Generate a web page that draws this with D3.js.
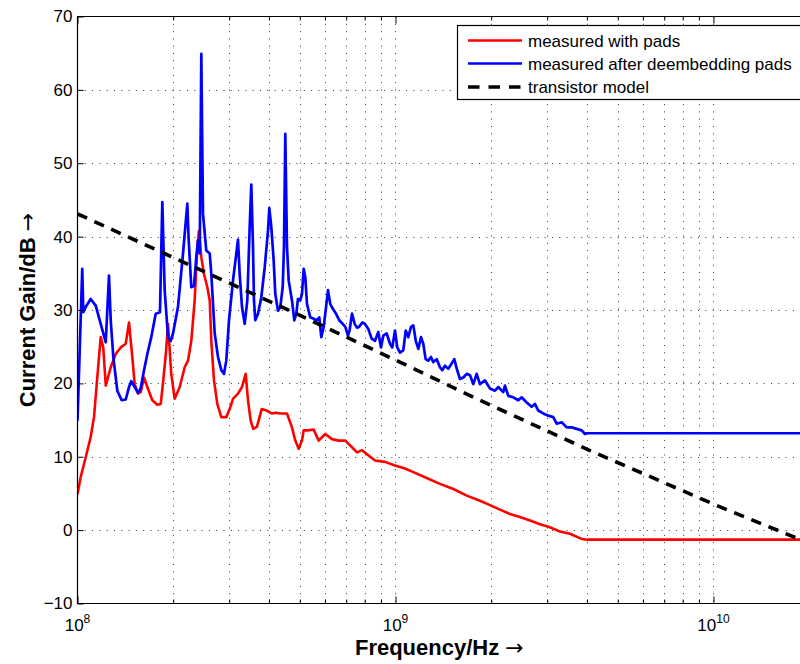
<!DOCTYPE html>
<html>
<head>
<meta charset="utf-8">
<script src="https://cdn.jsdelivr.net/npm/d3@7"></script>
<style>
  body { margin: 0; background: #fff; }
  svg { display: block; }
  text { font-family: "Liberation Sans", Arial, Helvetica, sans-serif; fill: #000; }
  .arrow { font-family: "DejaVu Sans", sans-serif; font-weight: normal; }
</style>
</head>
<body>
<svg id="chart" width="800" height="664"></svg>
<script>
// Current gain |h21| versus frequency. Frequencies in MHz, gains in dB.
const blueFreq = [100,103.5,104.3,106.1,110.0,114.1,118.3,122.7,125.6,127.2,
  129.6,133.4,137.7,141.8,145.2,147.6,151.3,155.0,158.0,161.9,
  165.8,170.6,176.2,181.7,184.8,188.0,192.6,196.4,199.7,207.0,
  214.7,221.5,223.7,228.0,232.5,236.4,239.3,242.3,245.1,248.1,
  254.1,260.5,263.5,270.1,276.6,283.3,288.9,293.7,299.5,308.3,
  315.8,319.7,323.6,329.1,335.6,342.0,347.9,352.0,356.4,358.9,
  362.3,369.5,378.4,387.9,397.2,401.0,406.9,414.0,418.8,427.1,
  434.2,441.9,446.0,450.3,455.8,461.5,472.6,480.6,487.6,493.6,
  501.9,508.1,514.4,520.4,526.9,539.6,553.1,566.4,575.9,584.3,
  594.6,601.5,613.4,623.7,634.6,650.0,665.7,682.3,695.3,709.0,
  717.8,729.8,744.2,756.7,767.8,786.3,801.9,821.2,841.7,862.1,
  882.9,900.3,915.5,938.3,961.0,977.1,996.4,1013,1033,1058,
  1077,1097,1119,1138,1158,1180,1203,1223,1244,1268,
  1293,1315,1348,1380,1403,1431,1466,1502,1531,1558,
  1595,1634,1675,1715,1757,1800,1843,1912,1982,2055,
  2105,2182,2209,2263,2346,2433,2493,2585,2681,2745,
  2812,2916,3023,3134,3213,3331,3454,3581,3713,3850,
  3943,4000,20000];
const blueGain = [14.9,35.6,29.7,30.4,31.5,30.6,28.1,25.6,34.7,28.6,
  23.6,19.0,17.7,17.8,19.5,20.3,19.5,18.7,19.3,21.8,
  24.0,26.3,29.5,29.7,44.7,32.7,26.3,25.8,26.8,30.4,
  37.7,44.5,39.5,33.1,33.3,37.2,39.5,37.7,64.9,43.1,
  38.1,37.7,34.9,26.8,23.6,21.8,21.3,23.1,28.6,34.0,
  37.7,39.6,34.9,30.4,28.1,31.3,41.3,47.1,38.6,31.3,
  28.6,29.5,31.7,35.8,40.8,43.9,41.3,36.7,32.2,29.9,
  30.4,33.1,38.6,54.0,38.6,34.0,31.3,28.6,29.5,31.5,
  31.3,32.2,35.6,34.5,30.8,29.0,28.8,28.6,29.0,26.3,
  27.7,29.5,32.7,30.8,30.2,29.5,28.6,28.1,27.7,26.5,
  27.3,29.5,28.1,27.6,27.7,28.3,28.1,27.4,26.1,25.8,
  27.0,24.9,26.5,26.8,25.4,24.9,27.2,24.9,24.2,24.5,
  27.2,26.3,27.7,27.9,25.8,24.7,26.3,25.4,23.3,23.1,
  23.6,22.9,23.3,22.2,21.8,22.4,22.0,22.7,23.3,22.0,
  20.6,20.8,21.3,21.1,19.9,21.3,19.9,20.4,19.3,19.0,
  19.5,18.8,19.7,18.3,18.1,17.7,18.1,17.4,16.8,17.2,
  16.3,15.9,15.6,15.4,14.5,14.7,14.0,14.0,13.8,13.6,
  13.1,13.2,13.2];

const redFreq = [100,102.3,106.1,110.0,112.7,115.4,118.3,120.5,122.7,127.2,
  131.9,136.7,141.8,145.2,148.7,151.3,155.0,158.0,161.9,165.8,
  171.9,178.2,182.7,186.1,189.4,192.6,197.2,202.1,209.6,217.3,
  222.6,228.0,233.6,238.1,241.0,245.1,249.9,256.0,260.5,263.5,
  268.7,275.2,283.3,293.7,301.0,308.3,319.7,329.1,338.0,343.7,
  350.5,357.1,366.8,379.5,393.5,408.0,420.9,433.3,455.8,472.6,
  484.1,496.1,508.1,514.4,533.4,553.1,573.5,601.5,631.4,662.8,
  695.3,729.8,756.7,784.6,821.2,862.1,926.8,996.4,1071,1138,
  1238,1380,1520,1675,1843,1982,2131,2291,2463,2648,
  2847,3061,3290,3537,3850,4000,20000];
const redGain = [4.9,7.2,9.9,12.7,15.4,20.8,26.3,24.9,19.7,22.2,
  24.0,24.9,25.4,28.3,23.6,19.9,18.6,18.8,20.8,19.5,
  17.7,17.1,17.2,20.4,23.8,28.1,21.3,17.9,19.5,22.2,
  23.1,25.8,31.3,38.6,40.8,37.2,34.9,33.1,31.3,25.8,
  20.4,17.2,15.4,15.4,16.5,17.9,18.6,19.5,21.3,17.7,
  14.9,13.8,14.1,16.5,16.3,15.9,16.0,15.9,15.9,14.0,
  12.2,11.1,12.2,13.6,13.6,13.7,12.2,13.1,12.4,12.2,
  12.2,11.3,10.6,10.9,10.2,9.5,9.3,8.8,8.4,7.9,
  7.2,6.3,5.6,4.7,4.0,3.4,2.8,2.2,1.8,1.3,
  0.8,0.4,-0.2,-0.5,-1.2,-1.3,-1.3];

const modelFreq = [100, 465.8, 1033, 1843, 4088, 10180, 18310, 20000];
const modelGain = [43.1, 29.9, 22.9, 17.7, 10.85, 3.4, -1.1, -1.8];

const yTicks = [-10, 0, 10, 20, 30, 40, 50, 60, 70];
const xMajorTicks = [1e8, 1e9, 1e10];
const xMajorExponents = ["8", "9", "10"];
const legendLabels = ["measured with pads", "measured after deembedding pads", "transistor model"];
const seriesColors = ["#ff0000", "#0000ff", "#000000"];

const svg = d3.select("#chart");
const plotLeft = 77.5, plotTop = 16.5, plotBottom = 603.5, plotRight = 809.2;

const x = d3.scaleLog().domain([1e8, 2e10]).range([plotLeft, plotRight]);
const y = d3.scaleLinear().domain([-10, 70]).range([plotBottom, plotTop]);

const xAllTicks = x.ticks().filter(v => v >= 1e8 && v <= 2e10);
const xMinorTicks = xAllTicks.filter(v => !xMajorTicks.includes(v));

// dotted grid
const grid = svg.append("g").attr("stroke", "#333").attr("stroke-width", 1)
  .attr("stroke-dasharray", "1,6.3");
grid.selectAll("line.gx").data(xAllTicks.filter(v => v > 1e8)).join("line")
  .attr("x1", d => Math.round(x(d)) + 0.5).attr("x2", d => Math.round(x(d)) + 0.5)
  .attr("y1", plotTop).attr("y2", plotBottom);
grid.selectAll("line.gy").data(yTicks.filter(v => v > -10 && v < 70)).join("line")
  .attr("x1", plotLeft).attr("x2", plotRight)
  .attr("y1", d => Math.round(y(d)) + 0.5).attr("y2", d => Math.round(y(d)) + 0.5);

// curves
svg.append("defs").append("clipPath").attr("id", "plotArea")
  .append("rect").attr("x", plotLeft).attr("y", plotTop)
  .attr("width", plotRight - plotLeft).attr("height", plotBottom - plotTop);

const line = d3.line().x(d => x(d[0] * 1e6)).y(d => y(d[1]));
const curves = svg.append("g").attr("clip-path", "url(#plotArea)").attr("fill", "none")
  .attr("stroke-linejoin", "round");

curves.append("path").datum(d3.zip(redFreq, redGain))
  .attr("d", line).attr("stroke", seriesColors[0]).attr("stroke-width", 2.6);
curves.append("path").datum(d3.zip(blueFreq, blueGain))
  .attr("d", line).attr("stroke", seriesColors[1]).attr("stroke-width", 2.7);
curves.append("path").datum(d3.zip(modelFreq, modelGain))
  .attr("d", line).attr("stroke", seriesColors[2]).attr("stroke-width", 3.6)
  .attr("stroke-dasharray", "10.5,8");

// axes with inward ticks
const yAxis = d3.axisLeft(y).tickValues(yTicks).tickSize(-6).tickPadding(5);
const gy = svg.append("g").attr("transform", `translate(${plotLeft},0)`).call(yAxis);
gy.select(".domain").remove();
gy.selectAll("text").attr("font-size", 17).style("font-family", '"Liberation Sans", Arial, sans-serif');

function xAxisPair(ticks, len) {
  svg.append("g").attr("transform", `translate(0,${plotBottom})`)
    .call(d3.axisBottom(x).tickValues(ticks).tickSize(-len).tickFormat(""))
    .call(g => g.select(".domain").remove());
  svg.append("g").attr("transform", `translate(0,${plotTop})`)
    .call(d3.axisTop(x).tickValues(ticks).tickSize(-len).tickFormat(""))
    .call(g => g.select(".domain").remove());
}
xAxisPair(xMajorTicks, 7);
xAxisPair(xMinorTicks, 4);

// x tick labels as powers of ten
const xl = svg.append("g").attr("font-size", 17).attr("text-anchor", "middle");
xMajorTicks.forEach((v, i) => {
  const t = xl.append("text").attr("x", x(v)).attr("y", 630.5);
  t.append("tspan").text("10");
  t.append("tspan").attr("font-size", 12).attr("dy", -8).text(xMajorExponents[i]);
});

// axes box
svg.append("path")
  .attr("d", `M${plotRight},${plotTop}H${plotLeft}V${plotBottom}H${plotRight}`)
  .attr("fill", "none").attr("stroke", "#000").attr("stroke-width", 1.2);

// axis titles
const xt = svg.append("text").attr("x", (plotLeft + plotRight) / 2 - 4).attr("y", 655)
  .attr("text-anchor", "middle").attr("font-size", 22).attr("font-weight", "bold");
xt.append("tspan").text("Frequency/Hz ");
xt.append("tspan").attr("class", "arrow").text("→");

const yt = svg.append("text")
  .attr("transform", `translate(35,${(plotTop + plotBottom) / 2}) rotate(-90)`)
  .attr("text-anchor", "middle").attr("font-size", 22).attr("font-weight", "bold");
yt.append("tspan").text("Current Gain/dB ");
yt.append("tspan").attr("class", "arrow").text("→");

// legend
const lg = svg.append("g");
lg.append("rect").attr("x", 457.5).attr("y", 25.5).attr("width", 360).attr("height", 74)
  .attr("fill", "#fff").attr("stroke", "#000").attr("stroke-width", 1.2);
const rowY = [40.5, 63.5, 87];
legendLabels.forEach((lab, i) => {
  lg.append("line").attr("x1", 468).attr("x2", 522).attr("y1", rowY[i]).attr("y2", rowY[i])
    .attr("stroke", seriesColors[i]).attr("stroke-width", i === 2 ? 3.6 : 2.6)
    .attr("stroke-dasharray", i === 2 ? "11.5,9" : null);
  lg.append("text").attr("x", 528).attr("y", rowY[i] + 6).attr("font-size", 17).text(lab);
});
</script>
</body>
</html>
